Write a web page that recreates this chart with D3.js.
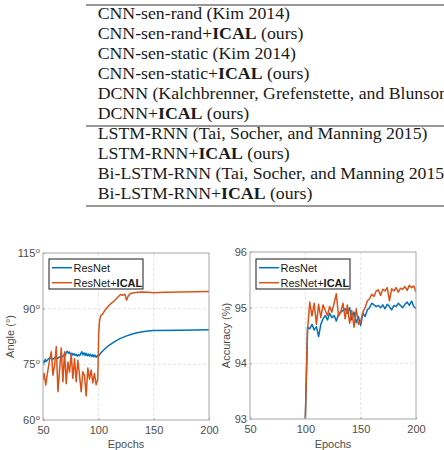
<!DOCTYPE html>
<html><head><meta charset="utf-8">
<script src="https://cdn.jsdelivr.net/npm/d3@7"></script>
<style>body{margin:0;background:#fff;} svg{display:block}</style>
</head><body>
<svg id="c" width="444" height="450"></svg>
<script>
// ---------- DATA ----------
const tableRows = [
  {pre:"CNN-sen-rand (Kim 2014)"},
  {pre:"CNN-sen-rand+", bold:"ICAL", post:" (ours)"},
  {pre:"CNN-sen-static (Kim 2014)"},
  {pre:"CNN-sen-static+", bold:"ICAL", post:" (ours)"},
  {pre:"DCNN (Kalchbrenner, Grefenstette, and Blunsom 2014)"},
  {pre:"DCNN+", bold:"ICAL", post:" (ours)"},
  {pre:"LSTM-RNN (Tai, Socher, and Manning 2015)"},
  {pre:"LSTM-RNN+", bold:"ICAL", post:" (ours)"},
  {pre:"Bi-LSTM-RNN (Tai, Socher, and Manning 2015)"},
  {pre:"Bi-LSTM-RNN+", bold:"ICAL", post:" (ours)"}
];
const seriesNames = ["ResNet", "ResNet+"];
const seriesBold = ["", "ICAL"];

const xTicks = [50, 100, 150, 200];
const angleTicks = [60, 75, 90, 105];
const angleTickLabels = ["60", "75", "90", "115"];
const accTicks = [93, 94, 95, 96];
const accTickLabels = ["93", "94", "95", "96"];

// Angle chart: ResNet
const angleResEpochs = [50,51,52,53,55,57,59,61,63,65,67,69,70,71,72,73,74,75,76,77,78,79,80,81,82,83,84,85,86,87,88,89,90,91,92,93,94,95,96,97,98,99,100,103,106,110,115,120,125,130,135,140,145,150,175,200];
const angleRes = [76.0,75.4,76.3,75.8,76.5,76.7,76.4,76.9,76.6,77.0,76.8,77.6,77.3,78.2,78.5,78.0,78.3,77.6,78.0,77.5,77.9,77.4,77.7,77.2,77.6,77.3,77.8,78.4,77.6,78.1,77.4,78.0,77.3,77.8,77.2,77.7,77.1,77.6,77.0,77.5,76.9,77.3,77.2,78.3,79.2,80.2,81.2,82.0,82.6,83.1,83.5,83.8,84.0,84.1,84.2,84.3];
// Angle chart: ResNet+ICAL
const angleIcalEpochs = [50,51,52.5,54,56,57.5,59,60.5,62,63.5,65,66.5,68,69.5,71,72.5,74,75.5,77,78.5,80,81.5,83,84.5,86,87.5,89,90.5,92,93.5,95,96.5,98,99.5,100.3,101,102,104,106,108,110,112,114,116,118,120,122,124,125.5,127,129,132,136,140,145,150,160,175,200];
const angleIcal = [70.8,72.6,69.4,72.6,76.2,78.4,72.1,74.7,79.8,67.6,73.5,79.4,70.3,78.4,69.8,75.6,72.9,77.9,71.2,76.5,70.3,76.1,72.1,67.6,73.0,72.0,66.5,74.0,71.0,73.5,70.0,72.5,69.5,71.0,83.0,86.5,88.0,88.6,89.6,90.3,91.0,91.5,92.0,92.6,93.2,93.8,93.6,93.9,92.3,93.4,94.1,94.3,94.4,94.5,94.4,94.3,94.4,94.5,94.6];

// Accuracy chart
const accEpochs = [100,102,104,106,108,110,112,114,116,118,120,122,124,126,128,130,132,134,136,138,140,142,144,146,148,150,152,154,156,158,160,162,164,166,168,170,172,174,176,178,180,182,184,186,188,190,192,194,196,198,200];
const accRes = [93.0,94.65,94.62,94.70,94.60,94.66,94.48,94.70,94.80,94.86,94.78,94.90,94.82,94.86,94.76,94.88,94.92,94.95,94.98,94.90,95.00,94.78,94.92,94.73,94.84,94.68,94.90,94.84,94.96,95.00,95.08,95.05,95.02,95.04,95.00,95.05,94.98,95.06,95.02,94.96,95.04,95.02,95.08,95.04,95.00,95.06,95.10,95.04,95.12,95.02,94.98];
const accIcal = [93.0,94.60,95.10,94.85,95.08,94.70,95.06,94.82,95.05,94.95,94.86,95.02,94.92,95.08,95.25,94.85,94.92,95.08,94.80,95.05,94.72,94.95,94.65,94.98,94.70,94.75,94.92,95.00,95.12,95.16,95.24,95.20,95.30,95.32,95.22,95.33,95.30,95.36,95.12,95.34,95.30,95.36,95.28,95.35,95.33,95.38,95.31,95.40,95.36,95.39,95.28];

// ---------- DRAW ----------
const svg = d3.select("#c");
const SANS = "'Liberation Sans', Arial, Helvetica, sans-serif";
const SERIF = "'Liberation Serif', 'DejaVu Serif', serif";
const colors = ["#0072BD", "#D95319"];

// Table (text runs past the right edge, as in the reference)
const tbl = svg.append("g");
[5, 126, 206].forEach(yy => tbl.append("line")
  .attr("x1", 86).attr("x2", 444).attr("y1", yy).attr("y2", yy)
  .attr("stroke", "#333").attr("stroke-width", 1.2));
const rowBase = i => (i < 6 ? 19 + i * 20 : 139 + (i - 6) * 20);
tableRows.forEach((r, i) => {
  const t = tbl.append("g").attr("transform", `translate(97.7,${rowBase(i)}) scale(1.11,1)`)
    .append("text").attr("x", 0).attr("y", 0)
    .style("font-family", SERIF).attr("font-size", 16).attr("fill", "#1a1a1a");
  t.append("tspan").text(r.pre);
  if (r.bold) {
    t.append("tspan").attr("font-weight", "bold").text(r.bold);
    t.append("tspan").text(r.post);
  }
});

function chart(cfg) {
  const x = d3.scaleLinear().domain([50, 200]).range([cfg.x0, cfg.x1]);
  const y = d3.scaleLinear().domain(cfg.yDomain).range([cfg.y1, cfg.y0]);
  const g = svg.append("g");
  // grid
  g.selectAll(".gx").data(xTicks.slice(1, -1)).join("line")
    .attr("x1", d => x(d)).attr("x2", d => x(d)).attr("y1", cfg.y0).attr("y2", cfg.y1)
    .attr("stroke", "#dcdcdc").attr("stroke-width", 0.8).attr("stroke-dasharray", "3,2");
  g.selectAll(".gy").data(cfg.yTicks.slice(1, -1)).join("line")
    .attr("y1", d => y(d)).attr("y2", d => y(d)).attr("x1", cfg.x0).attr("x2", cfg.x1)
    .attr("stroke", "#dcdcdc").attr("stroke-width", 0.8).attr("stroke-dasharray", "3,2");
  // clip
  svg.append("clipPath").attr("id", "clip" + cfg.id).append("rect")
    .attr("x", cfg.x0).attr("y", cfg.y0).attr("width", cfg.x1 - cfg.x0).attr("height", cfg.y1 - cfg.y0);
  const line = d3.line().x(d => x(d[0])).y(d => y(d[1]));
  cfg.series.forEach((s, i) => {
    g.append("path").datum(d3.zip(s.e, s.v)).attr("d", line)
      .attr("clip-path", `url(#clip${cfg.id})`)
      .attr("fill", "none").attr("stroke", colors[i]).attr("stroke-width", 1.5)
      .attr("stroke-linejoin", "round");
  });
  // box
  g.append("rect").attr("x", cfg.x0).attr("y", cfg.y0)
    .attr("width", cfg.x1 - cfg.x0).attr("height", cfg.y1 - cfg.y0)
    .attr("fill", "none").attr("stroke", "#a6a6a6").attr("stroke-width", 1);
  // x axis
  const ax = g.append("g").attr("transform", `translate(0,${cfg.y1})`)
    .call(d3.axisBottom(x).tickValues(xTicks).tickSize(-2).tickPadding(6).tickFormat(d3.format("d")));
  ax.select(".domain").remove();
  ax.selectAll("line").attr("stroke", "#a6a6a6");
  ax.selectAll("text").attr("font-family", SANS).attr("font-size", 11).attr("fill", "#4d4d4d");
  // y axis
  const ay = g.append("g").attr("transform", `translate(${cfg.x0},0)`)
    .call(d3.axisLeft(y).tickValues(cfg.yTicks).tickSize(-2).tickPadding(3)
      .tickFormat((d, i) => cfg.yLabels[i]));
  ay.select(".domain").remove();
  ay.selectAll("line").attr("stroke", "#a6a6a6");
  ay.selectAll("text").attr("font-family", SANS).attr("font-size", 11).attr("fill", "#4d4d4d");
  if (cfg.degree) {
    ay.selectAll("text").each(function () {
      d3.select(this).append("tspan").attr("font-size", 7.5).attr("dx", 0.5).attr("dy", "-0.55em").text("o");
    });
  }
  // titles
  g.append("text").attr("x", (cfg.x0 + cfg.x1) / 2).attr("y", 448)
    .attr("text-anchor", "middle").attr("font-family", SANS).attr("font-size", 11)
    .attr("fill", "#4d4d4d").text("Epochs");
  g.append("text").attr("transform", `translate(${cfg.ytX},${(cfg.y0 + cfg.y1) / 2}) rotate(-90)`)
    .attr("text-anchor", "middle").attr("font-family", SANS).attr("font-size", 11)
    .attr("fill", "#4d4d4d").text(cfg.yTitle);
  // legend
  const lg = g.append("g").attr("transform", `translate(${cfg.legX},259)`);
  lg.append("rect").attr("x", 0).attr("y", 0).attr("width", 94).attr("height", 30)
    .attr("fill", "#fff").attr("stroke", "#1a1a1a").attr("stroke-width", 1);
  seriesNames.forEach((n, i) => {
    const yy = 8.7 + i * 15;
    lg.append("line").attr("x1", 3).attr("x2", 23).attr("y1", yy).attr("y2", yy)
      .attr("stroke", colors[i]).attr("stroke-width", 1.5);
    const t = lg.append("text").attr("x", 24.5).attr("y", yy + 4)
      .attr("font-family", SANS).attr("font-size", 11).attr("fill", "#1a1a1a");
    t.append("tspan").text(n);
    if (seriesBold[i]) t.append("tspan").attr("font-weight", "bold").text(seriesBold[i]);
  });
}

chart({id: "a", x0: 43, x1: 209, y0: 253, y1: 420, yDomain: [60, 105],
  yTicks: angleTicks, yLabels: angleTickLabels, degree: true, yTitle: "Angle (°)", ytX: 14, legX: 49,
  series: [{e: angleResEpochs, v: angleRes}, {e: angleIcalEpochs, v: angleIcal}]});
chart({id: "b", x0: 250, x1: 416, y0: 252, y1: 419, yDomain: [93, 96],
  yTicks: accTicks, yLabels: accTickLabels, degree: false, yTitle: "Accuracy (%)", ytX: 230, legX: 256,
  series: [{e: accEpochs, v: accRes}, {e: accEpochs, v: accIcal}]});
</script>
</body></html>
